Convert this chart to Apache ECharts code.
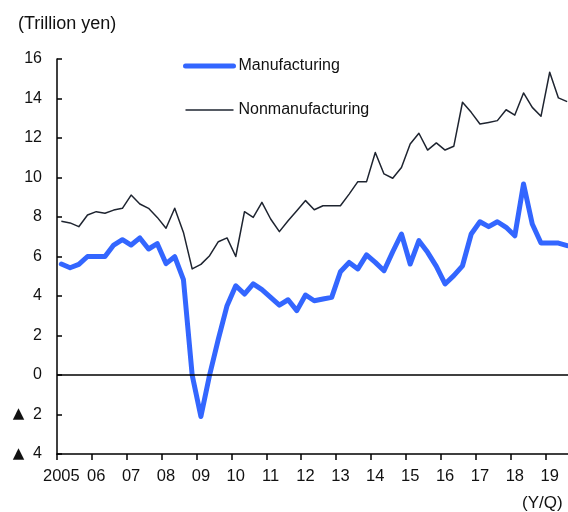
<!DOCTYPE html>
<html>
<head>
<meta charset="utf-8">
<script src="https://cdn.jsdelivr.net/npm/echarts@6/dist/echarts.min.js"></script>
<style>
html,body{margin:0;padding:0;background:#fff;overflow:hidden;}
#chart{width:572px;height:512px;}
</style>
</head>
<body>
<div id="chart"></div>
<script>
// Quarterly categories 2005Q1 .. 2019Q3
const years = ['2005','06','07','08','09','10','11','12','13','14','15','16','17','18','19'];
const categories = [];
years.forEach(function (y, yi) {
  for (let q = 1; q <= 4; q++) {
    if (yi === years.length - 1 && q > 3) break;
    categories.push(y + '/Q' + q);
  }
});

const manufacturing = [
  5.62, 5.43, 5.6, 6.0, 6.0, 6.0, 6.58, 6.85, 6.58, 6.94, 6.38, 6.65,
  5.64, 5.99, 4.83, 0.0, -2.1, 0.0, 1.82, 3.51, 4.52, 4.1, 4.61, 4.32,
  3.93, 3.54, 3.81, 3.26, 4.05, 3.76, 3.85, 3.93, 5.23, 5.7, 5.37, 6.08,
  5.7, 5.28, 6.24, 7.14, 5.62, 6.8, 6.21, 5.5, 4.61, 5.03, 5.53, 7.14,
  7.76, 7.51, 7.76, 7.48, 7.05, 9.67, 7.65, 6.68, 6.68, 6.68, 6.55
];

const nonmanufacturing = [
  7.78, 7.7, 7.51, 8.1, 8.27, 8.19, 8.35, 8.44, 9.11, 8.66, 8.44, 7.98,
  7.43, 8.44, 7.22, 5.37, 5.6, 6.04, 6.75, 6.94, 6.0, 8.27, 7.98, 8.74,
  7.9, 7.26, 7.81, 8.32, 8.83, 8.37, 8.57, 8.57, 8.57, 9.16, 9.79, 9.79,
  11.27, 10.18, 9.96, 10.51, 11.7, 12.24, 11.39, 11.75, 11.39, 11.58, 13.81, 13.3,
  12.71, 12.79, 12.88, 13.43, 13.16, 14.28, 13.55, 13.1, 15.33, 14.03, 13.84
];

const seriesNames = ['Manufacturing', 'Nonmanufacturing'];
const yUnit = '(Trillion yen)';
const xUnit = '(Y/Q)';

const font = '"Liberation Sans", Arial, sans-serif';
const blue = '#3366ff';
const dark = '#1e2430';

const chart = echarts.init(document.getElementById('chart'), null, {renderer: 'canvas'});
chart.setOption({
  animation: false,
  backgroundColor: '#ffffff',
  grid: {left: 57, top: 59, bottom: 58, right: 0.5, containLabel: false},
  legend: {
    orient: 'vertical',
    left: 183,
    top: 56,
    padding: 0,
    itemWidth: 48,
    itemHeight: 20,
    itemGap: 24,
    itemStyle: {opacity: 0},
    data: [
      {name: seriesNames[0], lineStyle: {width: 5, color: blue, cap: 'round'}},
      {name: seriesNames[1], lineStyle: {width: 1.5, color: dark}}
    ],
    textStyle: {fontFamily: font, fontSize: 16, color: '#111', lineHeight: 20}
  },
  xAxis: {
    type: 'category',
    data: categories,
    boundaryGap: true,
    axisLine: {onZero: false, lineStyle: {color: '#000', width: 1.5}},
    axisTick: {
      show: true, inside: false, length: 6,
      lineStyle: {color: '#000', width: 1.5},
      interval: function (i) { return i % 4 === 0; }
    },
    axisLabel: {
      interval: function (i) { return i % 4 === 0; },
      formatter: function (v) { return v.split('/')[0]; },
      fontFamily: font, fontSize: 16.5, color: '#111', margin: 14
    },
    splitLine: {show: false}
  },
  yAxis: {
    type: 'value',
    min: -4, max: 16, interval: 2,
    axisLine: {show: true, lineStyle: {color: '#000', width: 1.5}},
    axisTick: {show: true, inside: true, length: 5, lineStyle: {color: '#000', width: 1.5}},
    axisLabel: {
      fontFamily: font, fontSize: 16, color: '#111', margin: 15,
      formatter: function (v) { return v < 0 ? '{tri|\u25B2}  ' + (-v) : String(v); },
      rich: {
        tri: {fontFamily: '"DejaVu Sans", sans-serif', fontSize: 15, color: '#111'}
      }
    },
    splitLine: {show: false}
  },
  series: [
    {
      name: seriesNames[0],
      type: 'line',
      data: manufacturing,
      symbol: 'none',
      z: 3,
      lineStyle: {color: blue, width: 5, join: 'round', cap: 'round'},
      itemStyle: {color: blue},
      markLine: {
        silent: true,
        symbol: 'none',
        label: {show: false},
        lineStyle: {color: '#000', width: 1.5, type: 'solid'},
        data: [{yAxis: 0}]
      }
    },
    {
      name: seriesNames[1],
      type: 'line',
      data: nonmanufacturing,
      symbol: 'none',
      z: 2,
      lineStyle: {color: dark, width: 1.5, join: 'round'},
      itemStyle: {color: dark}
    }
  ],
  graphic: [
    {type: 'text', left: 18, top: 15, style: {text: yUnit, font: '18px ' + font, fill: '#111'}},
    {type: 'text', left: 522, top: 495, style: {text: xUnit, font: '17px ' + font, fill: '#111'}}
  ]
});
</script>
</body>
</html>
